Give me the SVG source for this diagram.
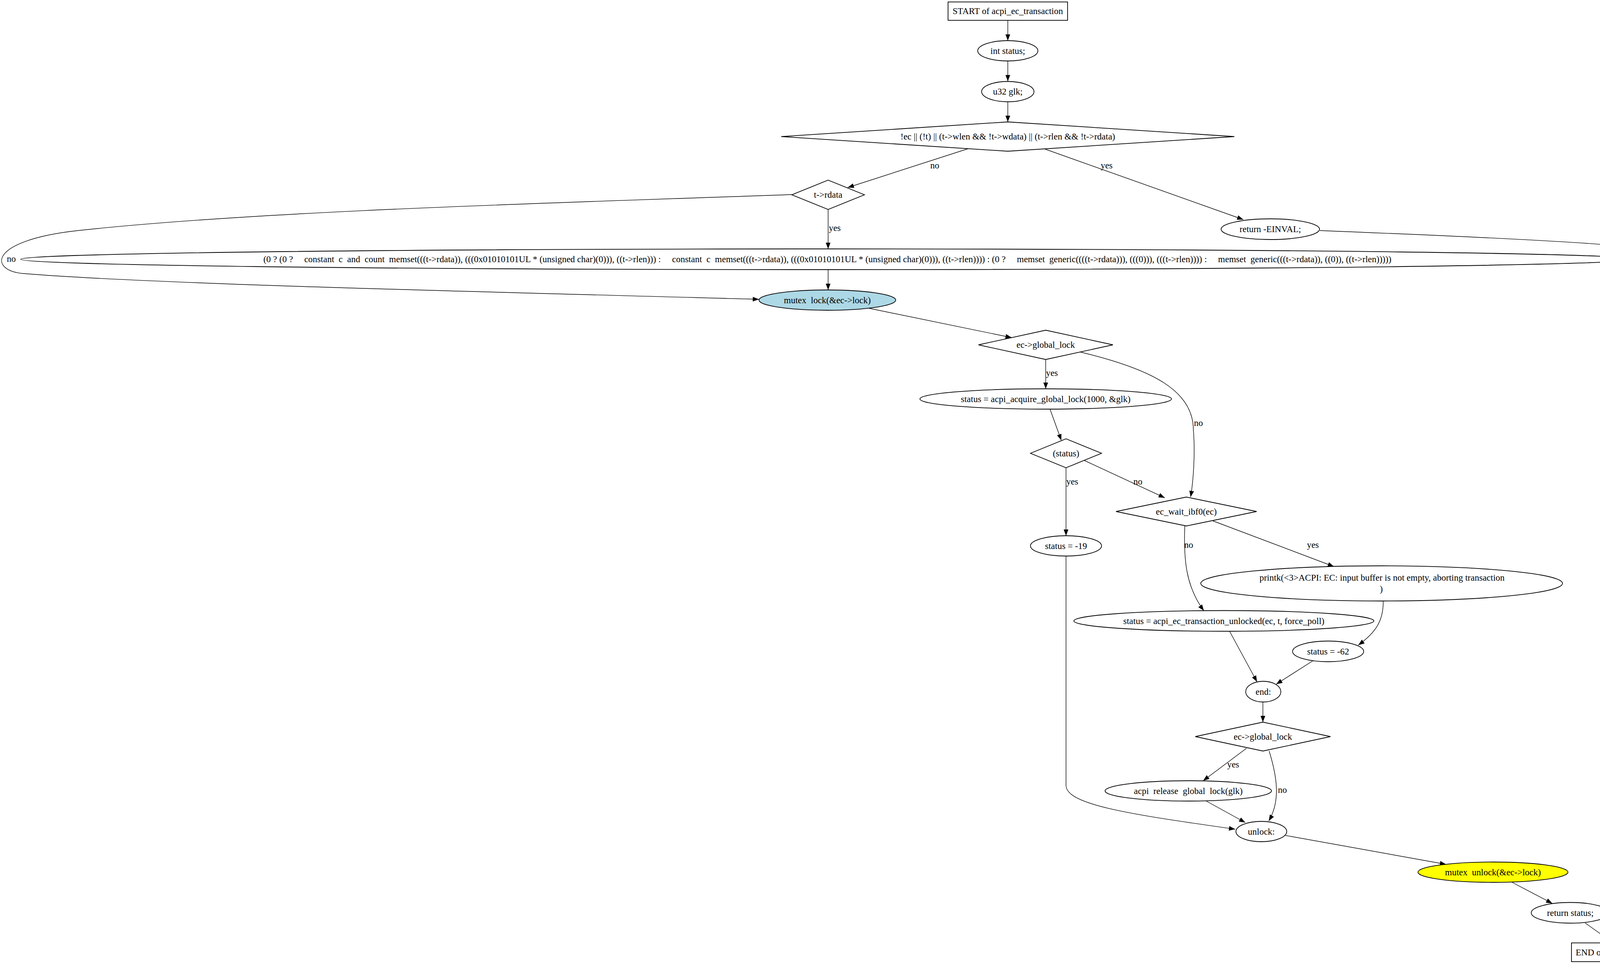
<svg xmlns="http://www.w3.org/2000/svg" width="4311" height="2467" viewBox="0 0 4311 2467">
<style>
text{font-family:"Liberation Serif","Times New Roman",serif;font-size:23px;fill:#000;text-anchor:middle}
.n{fill:#fff;stroke:#000;stroke-width:1.8}
.e{fill:none;stroke:#000;stroke-width:1.4;marker-end:url(#ah)}
</style>
<defs>
<marker id="ah" markerUnits="userSpaceOnUse" markerWidth="16" markerHeight="12" refX="16" refY="6" orient="auto">
<path d="M0,0 L16,6 L0,12 z" fill="#000"/>
</marker>
</defs>
<rect width="4311" height="2467" fill="#fff"/>
<g id="connectors">
<path class="e" d="M2580,52 L2580,104"/>
<path class="e" d="M2580,156 L2580,208"/>
<path class="e" d="M2580,260 L2580,312"/>
<path class="e" d="M2480,380 L2170,480"/>
<text x="2393" y="431">no</text>
<path class="e" d="M2671,380 L3183,562"/>
<text x="2833" y="431">yes</text>
<path class="e" d="M2120,536 L2120,637"/>
<text x="2137" y="591">yes</text>
<path class="e" d="M2027,498 C1400,520 660,540 200,590 C-30,615 -30,692 60,700 C400,728 1300,748 1943,766"/>
<text x="29" y="670">no</text>
<path class="e" d="M2120,690 L2120,742"/>
<path class="e" d="M2225,789 L2590,864"/>
<path class="e" d="M2677,920 L2677,995"/>
<text x="2693" y="962">yes</text>
<path class="e" d="M2766,901 C2950,945 3055,1000 3055,1100 C3060,1160 3055,1230 3048,1272"/>
<text x="3068" y="1090">no</text>
<path class="e" d="M2688,1047 L2717,1127"/>
<path class="e" d="M2729,1197 L2729,1371"/>
<text x="2745" y="1240">yes</text>
<path class="e" d="M2773,1177 L2982,1274"/>
<text x="2913" y="1240">no</text>
<path class="e" d="M2729,1423 L2729,2010 C2729,2060 2900,2085 3162,2122"/>
<path class="e" d="M3033,1346 C3030,1430 3035,1500 3082,1563"/>
<text x="3043" y="1402">no</text>
<path class="e" d="M3105,1333 L3415,1450"/>
<text x="3361" y="1402">yes</text>
<path class="e" d="M3541,1538 C3542,1590 3520,1620 3477,1651"/>
<path class="e" d="M3148,1616 L3218,1745"/>
<path class="e" d="M3361,1691 L3267,1751"/>
<path class="e" d="M3233,1797 L3233,1848"/>
<path class="e" d="M3191,1915 L3080,1998"/>
<text x="3157" y="1964">yes</text>
<path class="e" d="M3249,1922 C3270,1990 3278,2050 3248,2101"/>
<text x="3283" y="2029">no</text>
<path class="e" d="M3088,2050 L3188,2105"/>
<path class="e" d="M3291,2138 L3702,2212"/>
<path class="e" d="M3871,2258 L3974,2312"/>
<path class="e" d="M4058,2362 L4130,2413"/>
<path class="e" d="M3379,590 C3700,603 4100,620 4180,634 C4215,645 4223,665 4223,700 L4223,2330 C4223,2365 4215,2390 4190,2413"/>
</g>
<g id="start"><rect class="n" x="2427" y="5" width="306" height="47"/><text x="2580" y="36">START of acpi_ec_transaction</text></g>
<g id="int_status"><ellipse class="n" cx="2580" cy="130" rx="77" ry="26"/><text x="2580" y="138">int status;</text></g>
<g id="u32_glk"><ellipse class="n" cx="2580" cy="234.5" rx="67" ry="26"/><text x="2580" y="242">u32 glk;</text></g>
<g id="cond1"><polygon class="n" points="2000,349.5 2580,312 3160,349.5 2580,387"/><text x="2580" y="357">!ec || (!t) || (t-&gt;wlen &amp;&amp; !t-&gt;wdata) || (t-&gt;rlen &amp;&amp; !t-&gt;rdata)</text></g>
<g id="rdata"><polygon class="n" points="2027,498.5 2120,461 2213,498.5 2120,536"/><text x="2120" y="506">t-&gt;rdata</text></g>
<g id="einval"><ellipse class="n" cx="3252" cy="586.5" rx="126" ry="26.5"/><text x="3252" y="594">return -EINVAL;</text></g>
<g id="memset"><ellipse class="n" cx="2120" cy="663.5" rx="2067" ry="26.5"/><text x="2118" y="671" xml:space="preserve" style="white-space:pre">(0 ? (0 ?     constant  c  and  count  memset(((t-&gt;rdata)), (((0x01010101UL * (unsigned char)(0))), ((t-&gt;rlen))) :     constant  c  memset(((t-&gt;rdata)), (((0x01010101UL * (unsigned char)(0))), ((t-&gt;rlen)))) : (0 ?     memset  generic((((t-&gt;rdata))), (((0))), (((t-&gt;rlen)))) :     memset  generic(((t-&gt;rdata)), ((0)), ((t-&gt;rlen)))))</text></g>
<g id="mutex_lock"><ellipse class="n" cx="2118" cy="768" rx="175" ry="26" style="fill:#add8e6"/><text x="2118" y="776" xml:space="preserve" style="white-space:pre">mutex  lock(&amp;ec-&gt;lock)</text></g>
<g id="global_lock1"><polygon class="n" points="2505,882.5 2677,845 2849,882.5 2677,920"/><text x="2677" y="890">ec-&gt;global_lock</text></g>
<g id="acquire"><ellipse class="n" cx="2677" cy="1021" rx="322" ry="26"/><text x="2677" y="1029">status = acpi_acquire_global_lock(1000, &amp;glk)</text></g>
<g id="status_cond"><polygon class="n" points="2638,1160 2729,1123 2820,1160 2729,1197"/><text x="2729" y="1168">(status)</text></g>
<g id="wait_ibf0"><polygon class="n" points="2857,1309 3037,1272 3217,1309 3037,1346"/><text x="3037" y="1317">ec_wait_ibf0(ec)</text></g>
<g id="status19"><ellipse class="n" cx="2729" cy="1397" rx="91" ry="26"/><text x="2729" y="1405">status = -19</text></g>
<g id="printk"><ellipse class="n" cx="3537" cy="1493" rx="463" ry="45"/><text x="3538" y="1486">printk(&lt;3&gt;ACPI: EC: input buffer is not empty, aborting transaction</text><text x="3536" y="1515">)</text></g>
<g id="unlocked"><ellipse class="n" cx="3133" cy="1589" rx="384" ry="26.5"/><text x="3133" y="1597">status = acpi_ec_transaction_unlocked(ec, t, force_poll)</text></g>
<g id="status62"><ellipse class="n" cx="3400" cy="1667" rx="91" ry="26.5"/><text x="3400" y="1675">status = -62</text></g>
<g id="end_label"><ellipse class="n" cx="3234" cy="1770" rx="45" ry="26.5"/><text x="3234" y="1778">end:</text></g>
<g id="global_lock2"><polygon class="n" points="3060,1885 3233,1848 3406,1885 3233,1922"/><text x="3233" y="1893">ec-&gt;global_lock</text></g>
<g id="release"><ellipse class="n" cx="3042" cy="2024" rx="213" ry="26"/><text x="3042" y="2032" xml:space="preserve" style="white-space:pre">acpi  release  global  lock(glk)</text></g>
<g id="unlock_label"><ellipse class="n" cx="3229" cy="2128" rx="65" ry="26"/><text x="3229" y="2136">unlock:</text></g>
<g id="mutex_unlock"><ellipse class="n" cx="3822" cy="2232" rx="192" ry="26" style="fill:#ffff00"/><text x="3822" y="2240" xml:space="preserve" style="white-space:pre">mutex  unlock(&amp;ec-&gt;lock)</text></g>
<g id="return_status"><ellipse class="n" cx="4020" cy="2336" rx="100" ry="26.5"/><text x="4020" y="2344">return status;</text></g>
<g id="end"><rect class="n" x="4023" y="2413" width="282" height="48"/><text x="4164" y="2445">END of acpi_ec_transaction</text></g>
</svg>
